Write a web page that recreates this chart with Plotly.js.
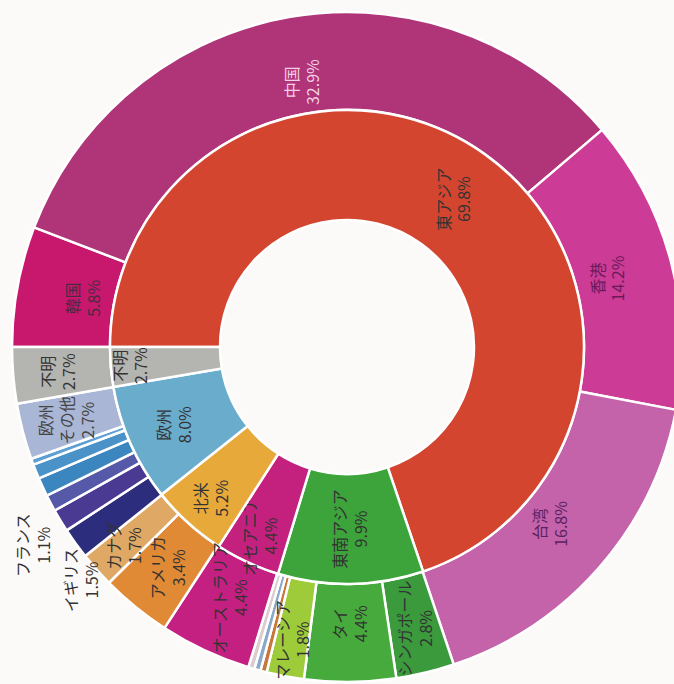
<!DOCTYPE html>
<html><head><meta charset="utf-8">
<script src="https://cdn.plot.ly/plotly-3.0.1.min.js"></script>
<style>
html,body{margin:0;padding:0;width:674px;height:684px;overflow:hidden;background:#fbfaf8;}
#wrap{position:absolute;left:-43px;top:-38px;width:760px;height:760px;transform:rotate(-90deg);transform-origin:50% 50%;}
</style></head><body><div id="wrap"></div>
<script>
// inner ring: regions
const regionNames  = ['東アジア','東南アジア','オセアニア','北米','欧州','不明'];
const regionValues = [69.8, 9.9, 4.4, 5.2, 8.0, 2.7];
const regionColors = ['#d44530','#3ca43a','#c4217f','#e6a93a','#6aaccc','#b4b4b0'];

// outer ring: countries (clockwise order)
const countryNames = ['韓国','中国','香港','台湾','シンガポール','タイ','マレーシア',
  '東南アジア他1','東南アジア他2','東南アジア他3','オーストラリア','アメリカ','カナダ',
  'イギリス','フランス','欧州他1','欧州他2','欧州他3','欧州他4','欧州その他','不明'];
const countryDisplay = ['韓国','中国','香港','台湾','シンガポール','タイ','マレーシア',
  '','','','オーストラリア','アメリカ','カナダ',
  '','','','','','','欧州<br>その他','不明'];
const countryValues = [5.8, 32.9, 14.2, 16.8, 2.8, 4.4, 1.8,
  0.3, 0.3, 0.3, 4.4, 3.4, 1.7,
  1.5, 1.1, 0.8, 0.9, 0.7, 0.3, 2.7, 2.7];
const countryColors = ['#c8186e','#b03478','#cc3b96','#c462aa','#3b9a3c','#46ab3c','#9dcb3a',
  '#c8763a','#8aa8c8','#dccbcf','#c42081','#e08a35','#dfa865',
  '#2c2d7c','#4a3a92','#5559a8','#3c86c0','#4a92c8','#5e9fd4','#a9b6d6','#b4b4b0'];
const countryTextColors = ['#4a2a40','#f4d0e4','#6a1a5a','#5a2262','#333333','#333333','#333333',
  '#333333','#333333','#333333','#333333','#333333','#333333',
  '#333333','#333333','#333333','#333333','#333333','#333333','#444444','#333333'];
// labels drawn outside the ring
const outsideNames = ['フランス','イギリス'];
const outsideValues = [1.1, 1.5];

// geometry (picture frame, px) -> rotated plot frame
const S = 760, VX = 337, VY = 342;           // div size, viewport centre
function toPaper(xi, yi){ const a = xi-VX, b = yi-VY; return [(S/2 - b)/S, 1 - (S/2 + a)/S]; }
const C = toPaper(347, 347);                 // ring centre
const R0 = 335, R1 = 237, R2 = 127, TXT = 0.94;
function dom(r){const f=r/S; return {x:[C[0]-f,C[0]+f], y:[C[1]-f,C[1]+f]};}
const outsidePos = [toPaper(32, 545), toPaper(80, 580)];

const fam = '"Noto Sans CJK JP","Noto Sans",sans-serif';
const inner = {
  type:'pie', labels:regionNames, values:regionValues, sort:false, direction:'clockwise', rotation:0,
  hole:R2/R1, domain:dom(R1),
  marker:{colors:regionColors, line:{color:'#ffffff', width:2.5}},
  text:regionNames.map((n,i)=>n+'<br>'+regionValues[i].toFixed(1)+'%'),
  textinfo:'text', textposition:'inside', insidetextorientation:'horizontal',
  textfont:{family:fam, size:16, color:'#333333'}, hoverinfo:'label+value', showlegend:false
};
const outer = {
  type:'pie', labels:countryNames, values:countryValues, sort:false, direction:'clockwise', rotation:0,
  hole:R1/R0, domain:dom(R0),
  marker:{colors:countryColors, line:{color:'#ffffff', width:2.5}},
  textinfo:'none', hoverinfo:'label+value', showlegend:false
};
// transparent copy of the outer ring that carries its labels, slightly inward
const outerText = {
  type:'pie', labels:countryNames, values:countryValues, sort:false, direction:'clockwise', rotation:0,
  hole:R1/R0, domain:dom(R0*TXT),
  marker:{colors:countryNames.map(()=> 'rgba(0,0,0,0)'), line:{width:0}},
  text:countryDisplay.map((n,i)=>n? n+'<br>'+countryValues[i].toFixed(1)+'%' : ''),
  textinfo:'text', textposition:'inside', insidetextorientation:'horizontal',
  textfont:{family:fam, size:16, color:countryTextColors}, hoverinfo:'skip', showlegend:false
};
const annotations = outsideNames.map((n,i)=>({
  xref:'paper', yref:'paper', x:outsidePos[i][0], y:outsidePos[i][1], xanchor:'center', yanchor:'middle',
  showarrow:false, text:n+'<br>'+outsideValues[i].toFixed(1)+'%', font:{family:fam, size:16, color:'#333333'}
}));
Plotly.newPlot('wrap', [outer, inner, outerText], {
  width:S, height:S, margin:{l:0,r:0,t:0,b:0},
  paper_bgcolor:'#fbfaf8', plot_bgcolor:'#fbfaf8',
  uniformtext:{minsize:16, mode:'show'},
  annotations:annotations
}, {displayModeBar:false, staticPlot:true});
</script></body></html>
